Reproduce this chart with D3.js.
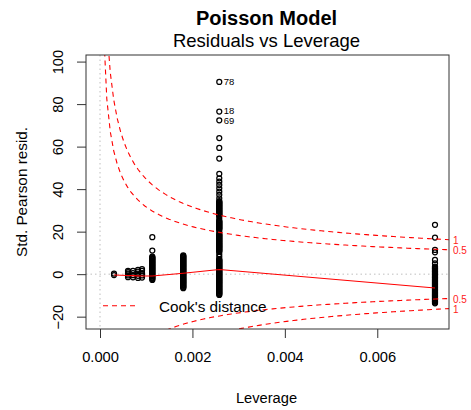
<!DOCTYPE html>
<html>
<head>
<meta charset="utf-8">
<script src="https://cdn.jsdelivr.net/npm/d3@7"></script>
<style>
  html, body { margin: 0; padding: 0; background: #fff; }
  svg { display: block; font-family: "Liberation Sans", Arial, sans-serif; }
</style>
</head>
<body>
<svg id="chart" width="471" height="410"></svg>
<script>
// ---- data ----
const hatValues = [0.000303, 0.000606, 0.000714, 0.000822, 0.000909, 0.001132, 0.001802, 0.002581, 0.007249];
const residG1 = [-0.4, 0.3];
const residG2 = [-1.4, -0.6, 0.2, 1.0, 1.6];
const residG3 = [-1.5, -0.5, 0.5, 1.5];
const residG4 = [-1.8, -0.8, 0.3, 1.2, 2.0];
const residG5 = [-1.6, -0.6, 0.5, 1.6, 2.4];
const residG6 = [17.4, 11.1, 8.2, 7.9, 7.5, 7.2, 6.8, 6.5, 6.1, 5.8, 5.4, 5.1, 4.7, 4.4, 4.0, 3.7, 3.3, 3.0, 2.6, 2.3,
  1.9, 1.6, 1.2, 0.9, 0.5, 0.2, -0.2, -0.5, -0.9, -1.2, -1.6, -1.9, -2.3, -2.7];
const residG7 = [8.8, 8.5, 8.1, 7.8, 7.4, 7.1, 6.7, 6.4, 6.0, 5.7, 5.3, 5.0, 4.6, 4.3, 3.9, 3.6, 3.2, 2.9, 2.5, 2.2,
  1.8, 1.5, 1.1, 0.8, 0.4, 0.1, -0.3, -0.6, -1.0, -1.3, -1.7, -2.0, -2.4, -2.7, -3.1, -3.4, -3.8, -4.1, -4.5, -4.8,
  -5.2, -5.5, -5.9, -6.2, -6.6];
const residG8 = [90.4, 76.5, 72.4, 64.0, 59.4, 54.4, 47.2, 45.1, 43.5, 42.0, 40.4, 38.8, 37.3, 35.7,
  34.4, 34.0, 33.7, 33.3, 33.0, 32.6, 32.3, 31.9, 31.6, 31.2, 30.9, 30.5, 30.2, 29.8, 29.5, 29.1, 28.8, 28.4, 28.1, 27.7, 27.4,
  26.3,
  25.2, 24.8, 24.5, 24.1, 23.8, 23.4, 23.1, 22.7, 22.4, 22.0, 21.7, 21.3, 21.0,
  20.0,
  18.9, 18.5, 18.2, 17.8, 17.5, 17.1, 16.8, 16.4, 16.1, 15.7, 15.4, 15.0, 14.7, 14.3, 14.0, 13.6, 13.3, 12.9, 12.6, 12.2,
  11.9, 11.5, 11.2, 10.8, 10.5,
  9.4, 8.2,
  7.1, 6.7, 6.4, 6.0, 5.7, 5.3, 5.0, 4.6, 4.3, 3.9, 3.6, 3.2, 2.9, 2.5, 2.2, 1.8, 1.5, 1.1, 0.8, 0.4, 0.1, -0.3, -0.6,
  -1.0, -1.3, -1.7, -2.0, -2.4, -2.7, -3.1, -3.4, -3.8, -4.1, -4.5, -4.8, -5.2, -5.5, -5.9, -6.2, -6.6, -6.9, -7.3, -7.6,
  -8.0, -8.3, -8.7, -9.0, -9.4, -9.8];
const residG9 = [23.2, 17.2, 11.4, 10.3, 6.7, 5.1,
  3.5, 3.2, 2.8, 2.5, 2.1, 1.8, 1.4, 1.1, 0.7, 0.4, 0.0, -0.3, -0.7, -1.0, -1.4, -1.7, -2.1, -2.4, -2.8, -3.1, -3.5, -3.8,
  -4.2, -4.5, -4.9, -5.2, -5.6, -5.9, -6.3, -6.6, -7.0, -7.3, -7.7, -8.0, -8.4, -8.7, -9.1, -9.4, -9.8, -10.1, -10.5,
  -10.8, -11.2, -11.5, -11.9, -12.2, -12.6, -12.9, -13.3, -13.7];
const residGroups = [residG1, residG2, residG3, residG4, residG5, residG6, residG7, residG8, residG9];
const smoothY = [-0.4, -0.6, -0.7, -0.8, -0.85, -0.9, 0.4, 2.2, -6.5];
const labelIds = ["78", "18", "69"];
const labelValues = [90.4, 76.5, 72.4];
const labelHat = 0.002581;
const cookLevels = [0.5, 1];
const cookLevelLabels = ["0.5", "1"];
const nParams = 2;
const xTicks = [0, 0.002, 0.004, 0.006];
const xTickLabels = ["0.000", "0.002", "0.004", "0.006"];
const yTicks = [-20, 0, 20, 40, 60, 80, 100];

// ---- layout ----
const L = 86, R = 449, T = 55, B = 329;
const svg = d3.select("#chart");
const x = d3.scaleLinear().domain([-0.000303, 0.007552]).range([L, R]);
const y = d3.scaleLinear().domain([-25.8, 103.1]).range([B, T]);

svg.append("defs").append("clipPath").attr("id", "clip")
  .append("rect").attr("x", L).attr("y", T).attr("width", R - L).attr("height", B - T);

// reference dotted lines
svg.append("line").attr("x1", L).attr("x2", R).attr("y1", y(0)).attr("y2", y(0))
  .attr("stroke", "#bebebe").attr("stroke-dasharray", "1.5,3");
svg.append("line").attr("x1", x(0)).attr("x2", x(0)).attr("y1", T).attr("y2", B)
  .attr("stroke", "#bebebe").attr("stroke-dasharray", "1.5,3");

// points
const pts = [];
residGroups.forEach((g, i) => g.forEach(v => pts.push([hatValues[i], v])));
svg.append("g").selectAll("circle").data(pts).join("circle")
  .attr("cx", d => x(d[0])).attr("cy", d => y(d[1])).attr("r", 2.5)
  .attr("fill", "none").attr("stroke", "#000").attr("stroke-width", 1.25);

// smoother
svg.append("path")
  .datum(hatValues.map((h, i) => [h, smoothY[i]]))
  .attr("d", d3.line().x(d => x(d[0])).y(d => y(d[1])))
  .attr("fill", "none").attr("stroke", "#ff0000").attr("stroke-width", 1.1);

// Cook's distance contours
const hStart = Math.min(hatValues[0], d3.max(hatValues) / 100);
const hEnd = x.domain()[1];
const hh = d3.range(101).map(i => hStart + (hEnd - hStart) * i / 100);
const cg = svg.append("g").attr("clip-path", "url(#clip)");
cookLevels.forEach((c, ci) => {
  const f = h => Math.sqrt(c * nParams * (1 - h) / h);
  [1, -1].forEach(s => {
    cg.append("path")
      .datum(hh.map(h => [h, s * f(h)]))
      .attr("d", d3.line().x(d => x(d[0])).y(d => y(Math.max(-200, Math.min(200, d[1])))))
      .attr("fill", "none").attr("stroke", "#ff0000").attr("stroke-width", 1.1)
      .attr("stroke-dasharray", "5,4");
    svg.append("text").attr("x", 453).attr("y", y(s * f(hEnd)) + 1)
      .attr("dy", "0.35em").attr("font-size", 10).attr("fill", "#ff2020")
      .text(cookLevelLabels[ci]);
  });
});

// point labels
labelIds.forEach((id, i) => {
  svg.append("text").attr("x", x(labelHat) + 4.5).attr("y", y(labelValues[i]) + (i === 1 ? -0.5 : i === 2 ? 0.5 : 0))
    .attr("dy", "0.35em").attr("font-size", 9.5).attr("fill", "#000").text(id);
});

// box
svg.append("rect").attr("x", L).attr("y", T).attr("width", R - L).attr("height", B - T)
  .attr("fill", "none").attr("stroke", "#333").attr("stroke-width", 1);

// x axis
const xa = svg.append("g").attr("transform", `translate(0,${B})`)
  .call(d3.axisBottom(x).tickValues(xTicks).tickFormat((d, i) => xTickLabels[i]).tickSize(9).tickPadding(14));
xa.select(".domain").remove();
xa.selectAll("text").attr("font-size", 14.7).attr("font-family", "Liberation Sans, Arial, sans-serif").attr("fill", "#000");
xa.selectAll("line").attr("stroke", "#333");

// y axis
const ya = svg.append("g").attr("transform", `translate(${L},0)`)
  .call(d3.axisLeft(y).tickValues(yTicks).tickSize(9).tickFormat(d3.format("d")));
ya.select(".domain").remove();
ya.selectAll("line").attr("stroke", "#333");
ya.selectAll("text").remove();
ya.selectAll(".tick").append("text")
  .attr("transform", "translate(-23,0) rotate(-90)")
  .attr("text-anchor", "middle").attr("dy", "0")
  .attr("font-size", 14.7).attr("fill", "#000")
  .text(d => d3.format("d")(d));

// titles
svg.append("text").attr("x", 266.5).attr("y", 25).attr("text-anchor", "middle")
  .attr("font-size", 20).attr("font-weight", "bold").text("Poisson Model");
svg.append("text").attr("x", 266.5).attr("y", 46.5).attr("text-anchor", "middle")
  .attr("font-size", 18.5).text("Residuals vs Leverage");
svg.append("text").attr("x", 266.5).attr("y", 403).attr("text-anchor", "middle")
  .attr("font-size", 14.7).text("Leverage");
svg.append("text").attr("transform", `translate(27,${(T + B) / 2}) rotate(-90)`)
  .attr("text-anchor", "middle").attr("font-size", 15.3).text("Std. Pearson resid.");

// legend
svg.append("line").attr("x1", 103).attr("x2", 138).attr("y1", 305.7).attr("y2", 305.7)
  .attr("stroke", "#ff0000").attr("stroke-width", 1.1).attr("stroke-dasharray", "5,4");
svg.append("text").attr("x", 159).attr("y", 311.5).attr("font-size", 15.3).text("Cook's distance");
</script>
</body>
</html>
